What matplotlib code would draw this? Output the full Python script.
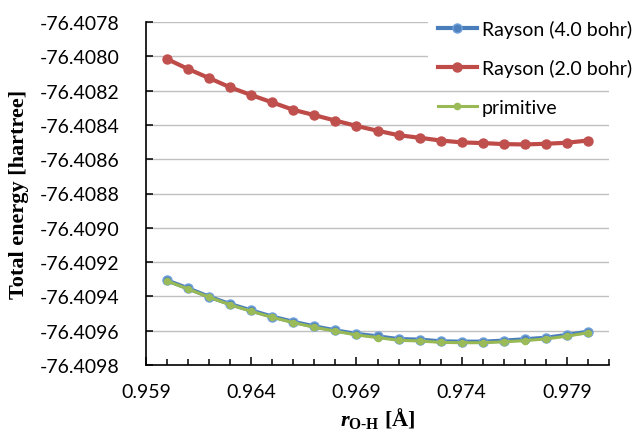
import matplotlib
matplotlib.use('Agg')
import matplotlib.pyplot as plt
from matplotlib.ticker import FormatStrFormatter, FixedLocator
from matplotlib.patches import Rectangle

r_oh = [0.960, 0.961, 0.962, 0.963, 0.964, 0.965, 0.966, 0.967, 0.968, 0.969, 0.970,
        0.971, 0.972, 0.973, 0.974, 0.975, 0.976, 0.977, 0.978, 0.979, 0.980]

rayson_40 = [-76.409307, -76.409353, -76.409402, -76.409445, -76.409482, -76.409518,
             -76.409548, -76.409575, -76.409598, -76.409619, -76.409633, -76.409649,
             -76.409652, -76.409662, -76.409664, -76.409664, -76.409658, -76.409650,
             -76.409641, -76.409625, -76.409606]

rayson_20 = [-76.408016, -76.408074, -76.408127, -76.408181, -76.408226, -76.408269,
             -76.408312, -76.408343, -76.408375, -76.408406, -76.408434, -76.408460,
             -76.408475, -76.408491, -76.408502, -76.408506, -76.408512, -76.408514,
             -76.408510, -76.408504, -76.408491]

primitive = [-76.409310, -76.409357, -76.409405, -76.409449, -76.409487, -76.409522,
             -76.409553, -76.409580, -76.409603, -76.409625, -76.409640, -76.409656,
             -76.409660, -76.409668, -76.409670, -76.409670, -76.409665, -76.409658,
             -76.409648, -76.409632, -76.409612]

x_major = [0.959, 0.964, 0.969, 0.974, 0.979]
x_minor = [0.959, 0.960, 0.961, 0.962, 0.963, 0.964, 0.965, 0.966, 0.967, 0.968, 0.969,
           0.970, 0.971, 0.972, 0.973, 0.974, 0.975, 0.976, 0.977, 0.978, 0.979, 0.980, 0.981]
y_ticks = [-76.4098, -76.4096, -76.4094, -76.4092, -76.4090, -76.4088, -76.4086,
           -76.4084, -76.4082, -76.4080, -76.4078]

plt.rcParams['font.family'] = ['Lato', 'DejaVu Sans']
plt.rcParams['mathtext.fontset'] = 'custom'
plt.rcParams['mathtext.it'] = 'Liberation Serif:italic:bold'
plt.rcParams['mathtext.rm'] = 'Liberation Serif:bold'

fig = plt.figure(figsize=(6.37, 4.39), dpi=100)
ax = fig.add_axes([146 / 637, 1 - 366 / 439, 463 / 637, 343 / 439])

ax.plot(r_oh, rayson_40, color='#4A7EBB', lw=3.0, marker='o', ms=6.5,
        mfc='#4F81BD', mec='#6FA0DC', mew=1.0, label='Rayson (4.0 bohr)', zorder=3)
ax.plot(r_oh, rayson_20, color='#BE4B48', lw=3.0, marker='o', ms=6.5,
        mfc='#C0504D', mec='#C0504D', label='Rayson (2.0 bohr)', zorder=3)
ax.plot(r_oh, primitive, color='#98B954', lw=2.2, marker='o', ms=4.5,
        mfc='#9BBB59', mec='#9BBB59', label='primitive', zorder=4)

ax.set_xlim(0.959, 0.981)
ax.set_ylim(-76.4098, -76.4078)
ax.xaxis.set_major_locator(FixedLocator(x_major))
ax.xaxis.set_minor_locator(FixedLocator(x_minor))
ax.yaxis.set_major_locator(FixedLocator(y_ticks))
ax.xaxis.set_major_formatter(FormatStrFormatter('%.3f'))
ax.yaxis.set_major_formatter(FormatStrFormatter('%.4f'))

ax.grid(axis='y', color='#C0C0C0', lw=1.0, zorder=0)
ax.set_axisbelow(True)
for s in ['top', 'right']:
    ax.spines[s].set_visible(False)
for s in ['left', 'bottom']:
    ax.spines[s].set_linewidth(1.2)

ax.tick_params(axis='x', which='major', direction='in', length=6, width=1.1,
               pad=13, labelsize=14)
ax.tick_params(axis='x', which='minor', direction='in', length=4, width=1.1)
ax.tick_params(axis='y', which='major', direction='in', length=5, width=1.1,
               pad=19, labelsize=14)

ax.set_ylabel('Total energy [hartree]', family='Liberation Serif', weight='bold',
              fontsize=16)
ax.yaxis.set_label_coords(-0.252, 0.5)
ax.set_xlabel(r'$r_{\mathrm{O\text{-}H}}$ [Å]', family='Liberation Serif',
              weight='bold', fontsize=16)
ax.xaxis.set_label_coords(0.5, -0.118)

# white box behind the legend, as in the spreadsheet chart
ax.add_patch(Rectangle((0.61, 0.85), 0.5, 0.2, transform=ax.transAxes,
                       facecolor='white', edgecolor='none', clip_on=False, zorder=1))

fig.legend(loc='upper left', bbox_to_anchor=(430 / 637, 1 - 13 / 439), frameon=False,
           fontsize=14, handlelength=2.0, handletextpad=0.25, labelspacing=1.1,
           borderaxespad=0)

fig.savefig('out.png', dpi=100)
